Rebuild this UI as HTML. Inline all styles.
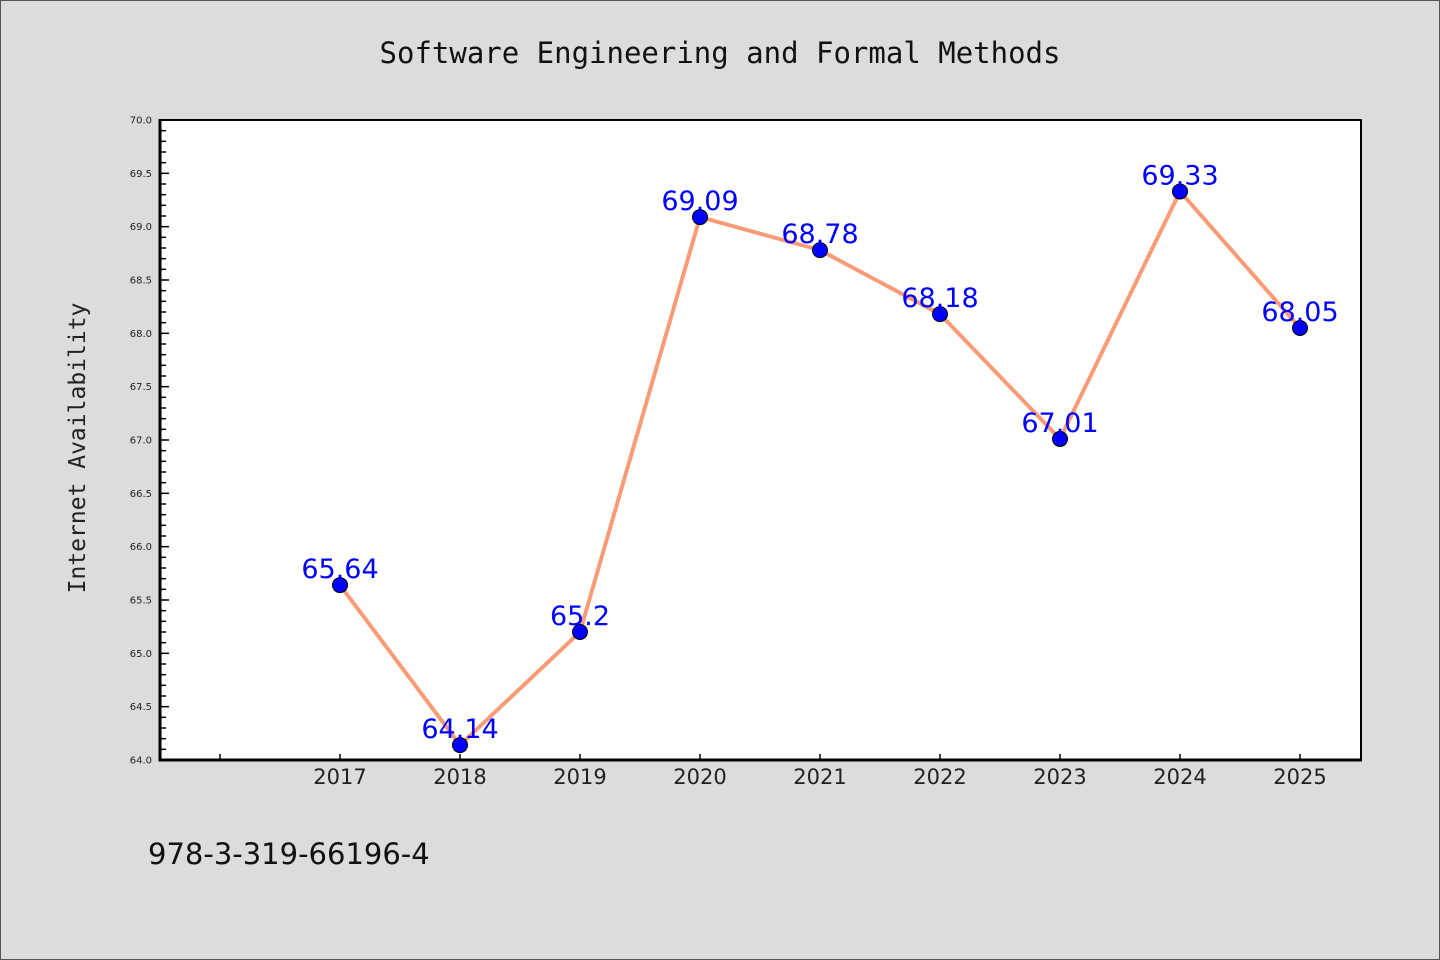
<!DOCTYPE html>
<html><head><meta charset="utf-8"><style>
html,body{margin:0;padding:0;background:#dcdcdc;}
svg{display:block;}
</style></head><body>
<svg id="chart" width="1440" height="960" xmlns="http://www.w3.org/2000/svg">
<rect x="0.5" y="0.5" width="1439" height="959" fill="#dcdcdc" stroke="#555" stroke-width="1"/>
<text x="720" y="63" text-anchor="middle" font-family="'DejaVu Sans Mono','Liberation Mono',monospace" font-size="29" fill="#111">Software Engineering and Formal Methods</text>
<rect x="160" y="120" width="1201" height="640" fill="#fff" stroke="#000" stroke-width="2"/>
<g id="yticks"></g>
<g id="xticks"></g>
<line x1="160" y1="119" x2="160" y2="761.5" stroke="#000" stroke-width="3"/>
<line x1="158.5" y1="760" x2="1362" y2="760" stroke="#000" stroke-width="3"/>
<g id="series"></g>
<text transform="translate(85,448) rotate(-90)" text-anchor="middle" font-family="'DejaVu Sans Mono','Liberation Mono',monospace" font-size="23" fill="#222">Internet Availability</text>
<text x="148" y="864" font-family="'DejaVu Sans','Liberation Sans',sans-serif" font-size="29" fill="#111">978-3-319-66196-4</text>
</svg>
<script>
const categories = ["2017","2018","2019","2020","2021","2022","2023","2024","2025"];
const values = [65.64,64.14,65.2,69.09,68.78,68.18,67.01,69.33,68.05];
const valueLabels = ["65.64","64.14","65.2","69.09","68.78","68.18","67.01","69.33","68.05"];
const yTickLabels = ["64.0","64.5","65.0","65.5","66.0","66.5","67.0","67.5","68.0","68.5","69.0","69.5","70.0"];
const yMin = 64, yMax = 70;
const NS = "http://www.w3.org/2000/svg";
function yScale(v){ return 760 - (v - yMin) / (yMax - yMin) * 640; }
function xScale(i){ return 340 + 120 * i; }
function mk(tag, attrs, parent){ const e=document.createElementNS(NS,tag); for(const k in attrs) e.setAttribute(k,attrs[k]); parent.appendChild(e); return e; }
const yg = document.getElementById('yticks');
for(let k=0;k<=60;k++){
  const v = yMin + k*0.1; const y = yScale(v); const major = k%5===0;
  if(k===0||k===60) continue;
  const t = mk('line',{x1:160,x2:major?169:166,y1:y,y2:y,stroke:'#000','stroke-width':1.5},yg);
  
  
}
yTickLabels.forEach(function(lbl){
  const y = yScale(parseFloat(lbl));
  const t = mk('text',{x:152,y:y+3.5,'text-anchor':'end','font-family':"'DejaVu Sans','Liberation Sans',sans-serif",'font-size':10,fill:'#222'},yg);
  t.textContent = lbl;
  
  
});
const xg = document.getElementById('xticks');
for(let i=-1;i<categories.length;i++){
  const x = xScale(i);
  const t = mk('line',{x1:x,x2:x,y1:760,y2:754,stroke:'#000','stroke-width':1.5},xg);
  
  
}
categories.forEach(function(c,i){
  const t = mk('text',{x:xScale(i),y:784,'text-anchor':'middle','font-family':"'DejaVu Sans','Liberation Sans',sans-serif",'font-size':21,fill:'#222'},xg);
  t.textContent = c;
  
  
});
const sg = document.getElementById('series');
const pts = values.map(function(v,i){ return xScale(i)+','+yScale(v); }).join(' ');
const line = mk('polyline',{points:pts,fill:'none',stroke:'#f89c78','stroke-width':4,'stroke-linejoin':'round'},sg);


values.forEach(function(v,i){
  const c = mk('circle',{cx:xScale(i),cy:yScale(v),r:7.5,fill:'#0000ff',stroke:'#000','stroke-width':1},sg);
  
  
});
values.forEach(function(v,i){
  const t = mk('text',{x:xScale(i),y:yScale(v)-7,'text-anchor':'middle','font-family':"'DejaVu Sans','Liberation Sans',sans-serif",'font-size':27,fill:'#0000ff'},sg);
  t.textContent = valueLabels[i];
  
  
});
</script>
</body></html>
